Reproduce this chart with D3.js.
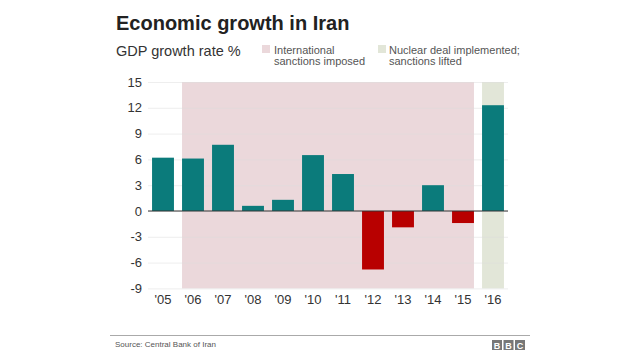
<!DOCTYPE html>
<html><head><meta charset="utf-8">
<script src="https://cdn.jsdelivr.net/npm/d3@7/dist/d3.min.js"></script>
<style>body{margin:0;background:#fff;}svg{display:block;font-family:"Liberation Sans",Arial,sans-serif;}</style>
</head><body><svg id="c" width="640" height="360"></svg>
<script>
const years = ["'05","'06","'07","'08","'09","'10","'11","'12","'13","'14","'15","'16"];
const growth = [6.2, 6.1, 7.7, 0.6, 1.3, 6.5, 4.3, -6.8, -1.9, 3.0, -1.4, 12.3];
const yTicks = [15, 12, 9, 6, 3, 0, -3, -6, -9];
const sanctionsYears = ["'06", "'15"];
const dealYear = "'16";

const svg = d3.select("#c");
const x = d3.scaleBand().domain(years).range([148, 508]).paddingInner(0.27).paddingOuter(0.135);
const y = d3.scaleLinear().domain([-9, 15]).range([288.4, 82]);

// title
svg.append("text").attr("x", 116).attr("y", 30).attr("font-size", 20).attr("font-weight", "bold").attr("fill", "#222").text("Economic growth in Iran");
svg.append("text").attr("x", 116).attr("y", 56).attr("font-size", 14.5).attr("fill", "#333").text("GDP growth rate %");

// legend
const lg = svg.append("g").attr("font-size", 11).attr("fill", "#555");
lg.append("rect").attr("x", 262).attr("y", 45).attr("width", 8).attr("height", 8).attr("fill", "#ebd8db");
lg.append("text").attr("x", 274).attr("y", 54).text("International");
lg.append("text").attr("x", 274).attr("y", 65).text("sanctions imposed");
lg.append("rect").attr("x", 378).attr("y", 45).attr("width", 8).attr("height", 8).attr("fill", "#e2e6d8");
lg.append("text").attr("x", 389).attr("y", 54).text("Nuclear deal implemented;");
lg.append("text").attr("x", 389).attr("y", 65).text("sanctions lifted");

// shaded periods
svg.append("rect").attr("x", x(sanctionsYears[0])).attr("y", y(15))
  .attr("width", x(sanctionsYears[1]) + x.bandwidth() - x(sanctionsYears[0]))
  .attr("height", y(-9) - y(15)).attr("fill", "#ebd8db");
svg.append("rect").attr("x", x(dealYear)).attr("y", y(15))
  .attr("width", x.bandwidth()).attr("height", y(-9) - y(15)).attr("fill", "#e2e6d8");

// y axis grid
const yAxis = d3.axisLeft(y).tickValues(yTicks).tickSize(-360).tickPadding(6).tickFormat(d => String(d));
const ga = svg.append("g").attr("transform", "translate(148,0)").call(yAxis);
ga.select(".domain").remove();
ga.selectAll(".tick line").attr("stroke", "#ddd").attr("stroke-opacity", 0.5);
ga.selectAll(".tick text").attr("font-size", 13).attr("fill", "#333").attr("font-family", "Liberation Sans, Arial, sans-serif");

// bars
svg.append("g").selectAll("rect").data(years).join("rect")
  .attr("x", d => x(d))
  .attr("y", (d, i) => y(Math.max(0, growth[i])))
  .attr("width", x.bandwidth())
  .attr("height", (d, i) => Math.abs(y(growth[i]) - y(0)))
  .attr("fill", (d, i) => growth[i] >= 0 ? "#0b7b7b" : "#b80000");

// zero line
svg.append("line").attr("x1", 148).attr("x2", 508).attr("y1", y(0)).attr("y2", y(0)).attr("stroke", "#333").attr("stroke-width", 1.2);

// x axis
const xAxis = d3.axisBottom(x).tickSize(0).tickPadding(6);
const gx = svg.append("g").attr("transform", `translate(0,${y(-9)})`).call(xAxis);
gx.select(".domain").remove();
gx.selectAll(".tick text").attr("font-size", 13).attr("fill", "#333").attr("font-family", "Liberation Sans, Arial, sans-serif");

// footer
svg.append("line").attr("x1", 110).attr("x2", 530).attr("y1", 335.5).attr("y2", 335.5).attr("stroke", "#aaa");
svg.append("text").attr("x", 115).attr("y", 347).attr("font-size", 8).attr("fill", "#555").text("Source: Central Bank of Iran");
const bbc = svg.append("g");
["B", "B", "C"].forEach((l, i) => {
  bbc.append("rect").attr("x", 492 + i * 11.5).attr("y", 340).attr("width", 10).attr("height", 10).attr("fill", "#777");
  bbc.append("text").attr("x", 497 + i * 11.5).attr("y", 348.5).attr("text-anchor", "middle").attr("font-size", 9).attr("font-weight", "bold").attr("fill", "#fff").text(l);
});
</script></body></html>
